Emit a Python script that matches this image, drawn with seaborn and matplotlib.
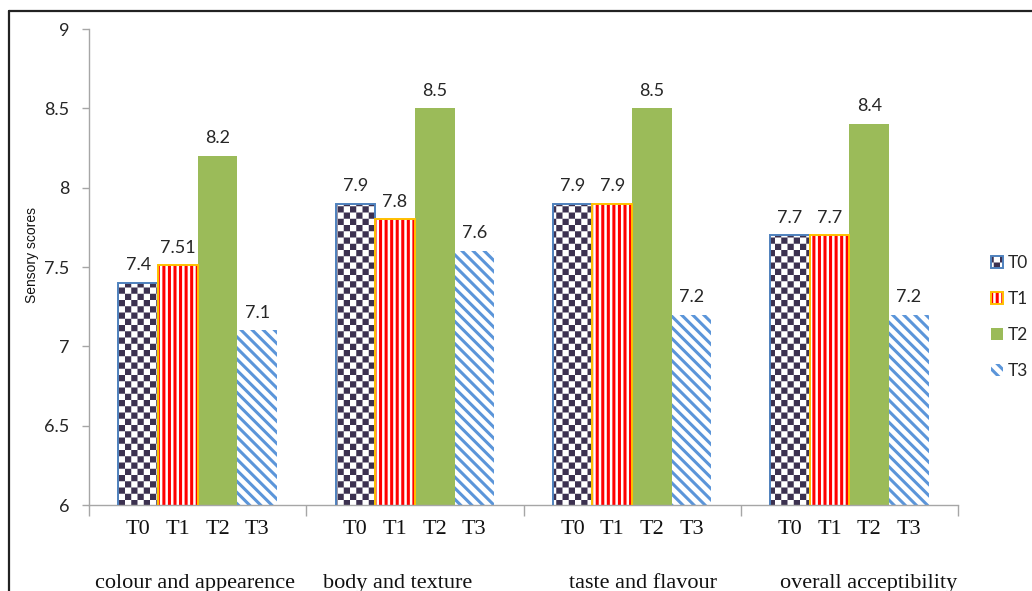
import warnings
warnings.filterwarnings("ignore")
import numpy as np
import pandas as pd
import matplotlib
matplotlib.use("Agg")
import matplotlib.pyplot as plt
import matplotlib.hatch as mhatch
from matplotlib.path import Path
from matplotlib.patches import Patch, Rectangle
from matplotlib.lines import Line2D
from matplotlib.ticker import FormatStrFormatter
import seaborn as sns

# ---------------- data ----------------
attributes = ["colour and appearence", "body and texture",
              "taste and flavour", "overall acceptibility"]
treatments = ["T0", "T1", "T2", "T3"]
t0_scores = [7.4, 7.9, 7.9, 7.7]
t1_scores = [7.51, 7.8, 7.9, 7.7]
t2_scores = [8.2, 8.5, 8.5, 8.4]
t3_scores = [7.1, 7.6, 7.2, 7.2]
y_ticks = [6, 6.5, 7, 7.5, 8, 8.5, 9]
y_label = "Sensory scores"

DPI = 100
HATCH_LW = 2.2  # points

sns.set_theme(style="white")
plt.rcParams["hatch.linewidth"] = HATCH_LW
SANS = ["Lato", "DejaVu Sans"]
ARIAL = ["Liberation Sans", "DejaVu Sans"]
SERIF = ["Liberation Serif", "DejaVu Serif"]


# custom checkerboard hatch ('c' characters)
class CheckerHatch(mhatch.HatchPatternBase):
    def __init__(self, hatch, density):
        k = hatch.count("c")
        self.n = 8 * k
        self.num_vertices = (self.n * self.n // 2) * 5 if self.n else 0

    def set_vertices_and_codes(self, vertices, codes):
        n = self.n
        s = 1.0 / n
        m = (HATCH_LW / 72.0 * DPI / 2.0) / DPI
        verts = []
        for i in range(n):
            for j in range(n):
                if (i + j) % 2 == 0:
                    x0, y0 = i * s + m, j * s + m
                    x1, y1 = (i + 1) * s - m, (j + 1) * s - m
                    verts.append([[x0, y0], [x1, y0], [x1, y1], [x0, y1], [x0, y0]])
        vertices[:] = np.array(verts).reshape(-1, 2)
        codes[:] = np.tile([Path.MOVETO, Path.LINETO, Path.LINETO,
                            Path.LINETO, Path.CLOSEPOLY], len(verts))


mhatch._hatch_types.append(CheckerHatch)

rows = []
for t, vals in zip(treatments, [t0_scores, t1_scores, t2_scores, t3_scores]):
    for a, v in zip(attributes, vals):
        rows.append((a, t, v))
df = pd.DataFrame(rows, columns=["attribute", "treatment", "score"])

styles = {
    "T0": dict(face="white", hatch="cc", hcol="#3c3150", edge="#4f81bd"),
    "T1": dict(face="white", hatch="|||", hcol="#ff0000", edge="#ffc000"),
    "T2": dict(face="#9bbb59", hatch=None, hcol="#9bbb59", edge=None),
    "T3": dict(face="white", hatch="\\\\\\", hcol="#5b95d9", edge=None),
}

fig = plt.figure(figsize=(10.32, 5.91), dpi=DPI)
fig.patch.set_facecolor("white")
ax = fig.add_axes([89 / 1032, 1 - 505 / 591, (958 - 89) / 1032, (505 - 29) / 591])

sns.barplot(data=df, x="attribute", y="score", hue="treatment",
            order=attributes, hue_order=treatments,
            palette=[styles[t]["face"] for t in treatments],
            width=0.73, errorbar=None, saturation=1, linewidth=0,
            legend=False, ax=ax)

ax.set_ylim(6, 9)
ax.set_xlim(-0.5, len(attributes) - 0.5)

centers, center_labels = [], []
for t, cont in zip(treatments, ax.containers):
    st = styles[t]
    for bar in cont:
        bar.set_facecolor(st["face"])
        bar.set_edgecolor(st["hcol"])
        bar.set_linewidth(0)
        if st["hatch"]:
            bar.set_hatch(st["hatch"])
        if st["edge"]:
            ax.add_patch(Rectangle(bar.get_xy(), bar.get_width(), bar.get_height(),
                                   fill=False, edgecolor=st["edge"], lw=1.4, zorder=3))
        centers.append(bar.get_x() + bar.get_width() / 2)
        center_labels.append(t)
    ax.bar_label(cont, fmt="%g", padding=7, fontsize=13, family=SANS, color="#262626")

# axes styling
for s in ["top", "right"]:
    ax.spines[s].set_visible(False)
for s in ["left", "bottom"]:
    ax.spines[s].set_color("#a6a6a6")
    ax.spines[s].set_linewidth(1.0)

ax.set_yticks(y_ticks)
ax.yaxis.set_major_formatter(FormatStrFormatter("%g"))
ax.tick_params(axis="y", which="major", left=True, length=5, width=1,
               color="#a6a6a6", pad=9, labelsize=13, labelcolor="#262626")
for lab in ax.get_yticklabels():
    lab.set_family(SANS)

ax.set_xticks(centers, center_labels)
ax.set_xticks(np.arange(-0.5, len(attributes), 1.0), minor=True)
ax.tick_params(axis="x", which="major", length=0, pad=11, labelsize=16,
               labelcolor="#111111")
ax.tick_params(axis="x", which="minor", bottom=True, length=8, width=1,
               color="#a6a6a6", direction="out")
for lab in ax.get_xticklabels():
    lab.set_family(SERIF)
ax.set_xlabel("")
ax.set_ylabel("")

# group labels
label_shift = [-0.01, -0.08, 0.05, 0.09]
for i, (name, dx) in enumerate(zip(attributes, label_shift)):
    ax.text(i + dx, -0.164, name, transform=ax.get_xaxis_transform(),
            ha="center", va="center", fontsize=16, family=SERIF, color="#111111")

fig.text(32 / 1032, 1 - 255 / 591, y_label,
         rotation=90, ha="center", va="center", fontsize=10, family=ARIAL,
         color="#111111")

# legend
handles = []
for t in treatments:
    st = styles[t]
    h1 = Patch(facecolor=st["face"], edgecolor=st["hcol"], hatch=st["hatch"], lw=0)
    if st["edge"]:
        handles.append((h1, Patch(fill=False, edgecolor=st["edge"], lw=1.4)))
    else:
        handles.append(h1)
leg = fig.legend(handles, treatments, loc="center left",
                 bbox_to_anchor=(991 / 1032, 1 - 317 / 591),
                 frameon=False, handlelength=0.7, handleheight=0.7,
                 handletextpad=0.25, labelspacing=1.15, borderpad=0,
                 borderaxespad=0,
                 prop={"family": SANS, "size": 12.5})
for txt in leg.get_texts():
    txt.set_color("#262626")

# outer frame (top and left edges visible)
fig.add_artist(Line2D([9 / 1032, 1.0], [1 - 11 / 591, 1 - 11 / 591],
                      transform=fig.transFigure, color="#222222", lw=1.6))
fig.add_artist(Line2D([9 / 1032, 9 / 1032], [1 - 11 / 591, 0.0],
                      transform=fig.transFigure, color="#222222", lw=1.6))

fig.savefig("out.png", dpi=DPI, facecolor="white")
